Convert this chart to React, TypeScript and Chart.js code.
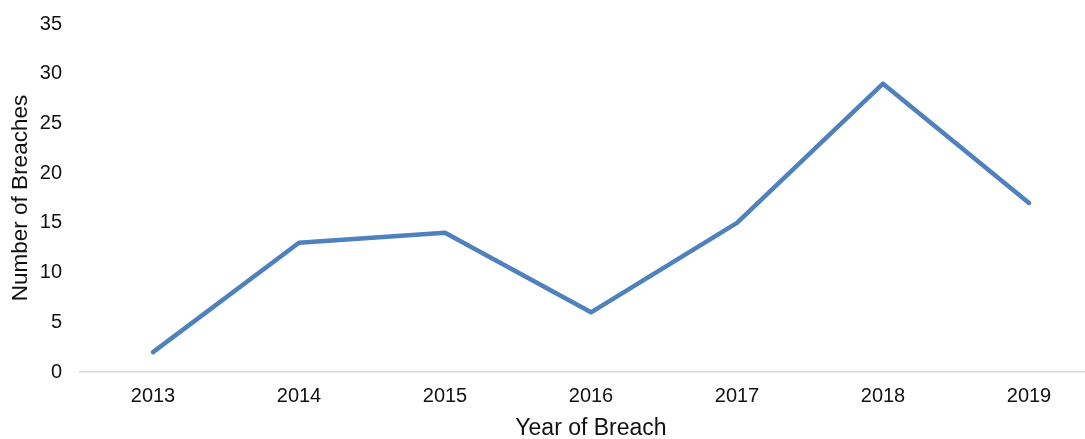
import React, { useEffect, useRef } from "react";
import { Chart, registerables } from "chart.js";

Chart.register(...registerables);

const years = ["2013", "2014", "2015", "2016", "2017", "2018", "2019"];
const breaches = [2, 13, 14, 6, 15, 29, 17];
const yTitle = "Number of Breaches";
const xTitle = "Year of Breach";

export default function App() {
  const ref = useRef<HTMLCanvasElement | null>(null);
  useEffect(() => {
    if (!ref.current) return;
    const font = "'Liberation Sans', Helvetica, Arial, sans-serif";
    const chart = new Chart(ref.current, {
      type: "line",
      data: {
        labels: years,
        datasets: [
          {
            data: breaches,
            borderColor: "#4f81bd",
            borderWidth: 4.5,
            pointRadius: 0,
            borderCapStyle: "round",
            borderJoinStyle: "round",
            tension: 0,
            fill: false,
          },
        ],
      },
      options: {
        animation: false,
        responsive: true,
        maintainAspectRatio: false,
        layout: { padding: { top: 24, left: 4, right: 8, bottom: 0 } },
        plugins: { legend: { display: false }, tooltip: { enabled: false } },
        scales: {
          x: {
            offset: true,
            grid: { display: false, drawTicks: false },
            border: { display: true, color: "#d9d9d9", width: 1.5 },
            ticks: { color: "#111", padding: 12, font: { family: font, size: 20 }, maxRotation: 0 },
            title: {
              display: true,
              text: xTitle,
              color: "#111",
              font: { family: font, size: 23 },
              padding: { top: 0, bottom: -3 },
            },
            afterFit: (s: any) => {
              s.height = 67;
            },
          },
          y: {
            min: 0,
            max: 35,
            grid: { display: false, drawTicks: false },
            border: { display: false },
            ticks: { stepSize: 5, color: "#111", padding: 18, font: { family: font, size: 20 } },
            title: {
              display: true,
              text: yTitle,
              color: "#111",
              font: { family: font, size: 22.5 },
              padding: { top: 3, bottom: 0 },
            },
            afterFit: (s: any) => {
              s.width = 76;
              s.paddingTop = 0;
              s.paddingBottom = 0;
            },
          },
        },
      },
    });
    return () => chart.destroy();
  }, []);
  return (
    <div style={{ position: "fixed", left: 0, top: 0, width: 1085, height: 439, overflow: "hidden", background: "#fff" }}>
      <div style={{ position: "relative", width: 1110, height: 439 }}>
        <canvas ref={ref} />
      </div>
    </div>
  );
}
